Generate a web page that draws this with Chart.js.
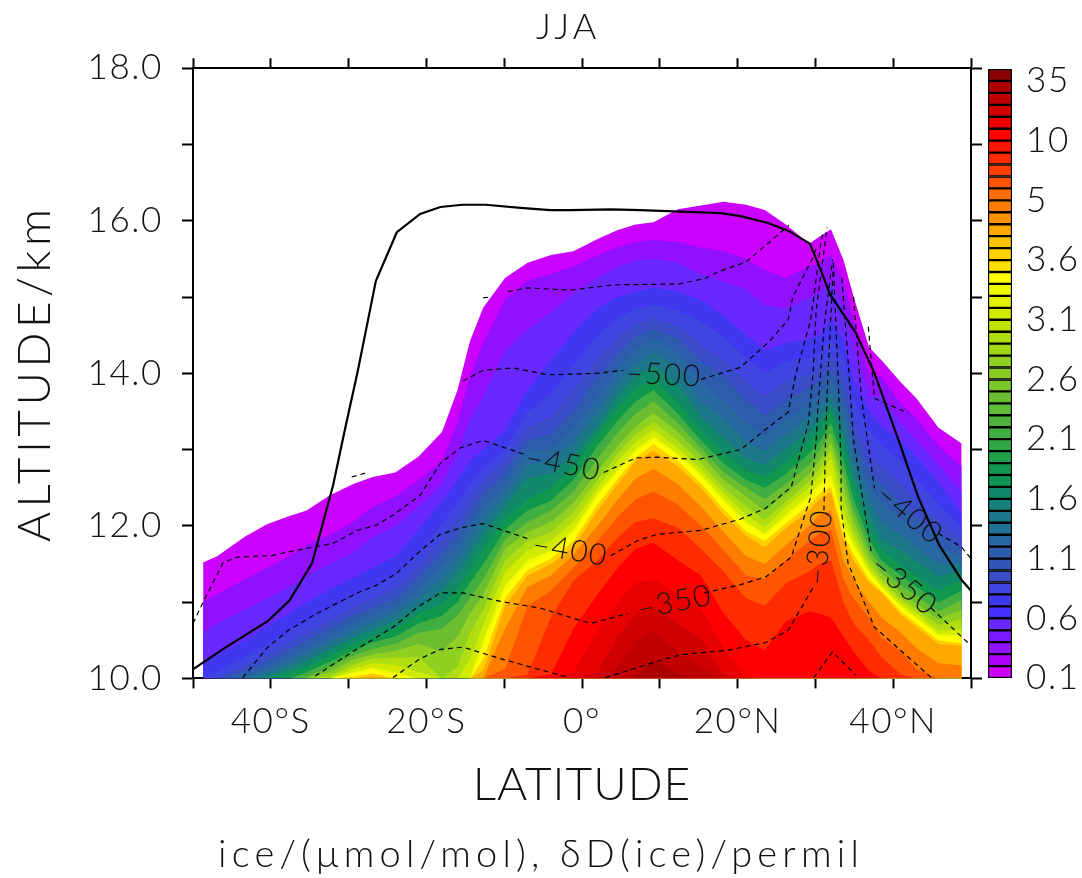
<!DOCTYPE html>
<html><head><meta charset="utf-8">
<style>html,body{margin:0;padding:0;background:#fff;overflow:hidden}
#main{position:absolute;left:0;top:0}
#bar{position:absolute;left:987px;top:60px}
</style>
<script src="https://cdn.jsdelivr.net/npm/chart.js@4"></script>
</head><body>
<canvas id="main" width="1082" height="878"></canvas>
<canvas id="bar" width="95" height="630"></canvas>
<script>
const FONT='Lato';
const INK='#111';
const xTickLabels={'-40':'40°S','-20':'20°S','0':'0°','20':'20°N','40':'40°N'};
const barLabels=['0.1','','','','','0.6','','','','','1.1','','','','','1.6','','','','','2.1','','','','','2.6','','','','','3.1','','','','','3.6','','','','','5','','','','','10','','','','','35'];
const bandColors=['#CC00FF','#B000F8','#9010FF','#7A18FF','#6828FF','#4830FF','#4038F0','#4044E0','#3A4CC8','#3454B8','#2E5CAC','#2868A0','#207098','#1C7888','#148078','#108A68','#0C9455','#10984E','#20A04A','#30A845','#40AE40','#50B23A','#5EBC35','#6CBE30','#7CC828','#8CCC22','#90D020','#A0D818','#B0DE10','#C0E200','#D0EA00','#E0F000','#F0FA00','#FFFF00','#FFE000','#FFD000','#FFC000','#FFA800','#FF9000','#FF7C00','#FF6C00','#FF5400','#FF4000','#FF2C00','#FF1400','#FF0000','#E80000','#D00000','#C00000','#AA0000','#8B0000'];
// colour-bar band drawn by each entry of a column below
const bandLevels=[0,2,4,6,7,8,10,11,13,15,17,20,23,26,28,30,32,33,35,37,39,41,43,45,46,47,48,49];
const latitudes=[-48.7,-46.9,-43.3,-40.5,-37.6,-35.4,-32.4,-29.4,-26.9,-24,-21,-18,-16,-14.4,-12.7,-9.9,-7,-4,-1.1,2,4.6,6.9,9.2,12.3,15.3,18.2,21.1,23.5,26.2,29.2,30.5,32,33.6,34.9,36.9,38.5,41,43,45.8,48.8];
// upper altitude (km) of each band in each latitude column; bands not listed are absent there
const c01=[11.52,11,10.6,10.2,10.02];
const c02=[11.6,11.1,10.72,10.3,10.08];
const c03=[11.86,11.3,10.9,10.5,10.28,10.17,10.09,10.03];
const c04=[12.02,11.45,11.05,10.68,10.45,10.32,10.22,10.14,10.07,10.02];
const c05=[12.13,11.6,11.2,10.85,10.62,10.47,10.37,10.28,10.2,10.13,10.06];
const c06=[12.2,11.75,11.35,11,10.75,10.6,10.5,10.4,10.32,10.23,10.15,10.08,10.02];
const c07=[12.4,11.88,11.5,11.17,10.92,10.77,10.66,10.56,10.47,10.38,10.3,10.22,10.15,10.09,10.03];
const c08=[12.55,12.05,11.65,11.32,11.08,10.93,10.82,10.72,10.62,10.53,10.45,10.37,10.3,10.24,10.18,10.13,10.08,10.06,10.02];
const c09=[12.64,12.25,11.85,11.45,11.2,11.05,10.93,10.83,10.73,10.64,10.55,10.47,10.39,10.32,10.26,10.2,10.14,10.11,10.07,10.03];
const c10=[12.7,12.38,12,11.6,11.35,11.18,11.05,10.95,10.85,10.75,10.65,10.55,10.45,10.36,10.27,10.18,10.08,10.03];
const c11=[12.91,12.6,12.25,11.95,11.65,11.48,11.32,11.18,11.05,10.93,10.85,10.72,10.6,10.45,10.28,10.08];
const c12=[13.23,12.85,12.55,12.33,12.02,11.82,11.65,11.5,11.32,11.15,10.98,10.82,10.65,10.35];
const c13=[13.78,13.35,12.95,12.6,12.3,12.08,11.9,11.75,11.55,11.38,11.18,11,10.82,10.55,10.15];
const c14=[14.42,13.95,13.4,12.85,12.55,12.35,12.15,12,11.8,11.62,11.42,11.25,11.05,10.85,10.6,10.25];
const c15=[14.86,14.4,13.7,13,12.75,12.58,12.42,12.25,12.08,11.9,11.7,11.5,11.3,11.1,10.9,10.7,10.5,10.4,10.25,10.1];
const c16=[15.25,14.96,14.3,13.25,13,12.85,12.7,12.55,12.4,12.25,12.1,11.95,11.82,11.7,11.55,11.4,11.22,11.15,11.05,10.95,10.65,10.12];
const c17=[15.45,15.22,14.57,13.78,13.5,13.3,13.12,12.98,12.8,12.62,12.35,12.2,12.05,11.92,11.8,11.68,11.55,11.5,11.42,11.35,11.2,10.95,10.05];
const c18=[15.55,15.3,14.8,14.17,13.72,13.42,13.2,13,12.85,12.68,12.5,12.33,12.2,12.05,11.92,11.8,11.68,11.64,11.57,11.5,11.35,11.15,10.8,10.05];
const c19=[15.6,15.4,15.05,14.53,14.1,13.78,13.5,13.28,13.1,12.93,12.77,12.6,12.45,12.3,12.18,12.05,11.95,11.9,11.8,11.72,11.62,11.45,11.28,10.65,10.08];
const c20=[15.76,15.55,15.25,14.85,14.5,14.2,13.95,13.7,13.5,13.3,13.2,13.05,12.88,12.72,12.6,12.5,12.42,12.38,12.28,12.2,12,11.8,11.55,11.1,10.62,10.08];
const c21=[15.88,15.65,15.4,15,14.72,14.47,14.25,14.05,13.87,13.7,13.55,13.38,13.22,13.05,12.95,12.85,12.74,12.7,12.62,12.55,12.35,12.12,11.85,11.45,11,10.55,10.15];
const c22=[15.95,15.72,15.48,15.07,14.85,14.65,14.48,14.3,14.13,13.97,13.8,13.63,13.47,13.3,13.2,13.1,13,12.96,12.9,12.85,12.62,12.35,12.05,11.7,11.25,10.85,10.5,10.03];
const c23=[15.98,15.75,15.5,15.12,14.9,14.72,14.58,14.45,14.28,14.1,13.92,13.78,13.63,13.48,13.36,13.26,13.17,13.13,13.07,12.98,12.75,12.45,12.1,11.78,11.3,10.93,10.63,10.24];
const c24=[16.15,15.72,15.45,15.07,14.82,14.62,14.45,14.28,14.1,13.85,13.62,13.47,13.35,13.23,13.12,13.02,12.95,12.92,12.85,12.78,12.55,12.28,11.98,11.55,11.1,10.72,10.35,10.05];
const c25=[16.2,15.65,15.3,14.96,14.68,14.37,14.15,13.88,13.62,13.42,13.25,13.12,13.02,12.93,12.82,12.74,12.67,12.64,12.56,12.5,12.25,12,11.7,11.35,10.92,10.52,10.15];
const c26=[16.25,15.6,15.2,14.75,14.48,14.17,13.95,13.65,13.4,13.15,12.95,12.82,12.7,12.6,12.5,12.42,12.35,12.32,12.22,12.15,11.92,11.68,11.4,10.85,10.4,10.05];
const c27=[16.21,15.5,15.1,14.5,14.2,13.9,13.65,13.35,13.1,12.88,12.72,12.6,12.5,12.38,12.25,12.15,12.05,12.02,11.93,11.87,11.6,11.35,11.05,10.5,10.02];
const c28=[16.14,15.35,14.9,14.3,14,13.7,13.45,13.18,12.98,12.8,12.64,12.5,12.35,12.2,12.08,11.98,11.9,11.87,11.8,11.72,11.5,11.3,10.95,10.37];
const c29=[15.95,15.25,14.85,14.4,14.15,13.9,13.65,13.4,13.2,13,12.82,12.68,12.55,12.42,12.32,12.25,12.15,12.1,12.03,11.97,11.75,11.55,11.25,10.75];
const c30=[15.7,15.4,15,14.45,14.2,13.98,13.8,13.6,13.42,13.25,13.1,12.95,12.8,12.68,12.58,12.5,12.4,12.35,12.28,12.2,12,11.8,11.4,10.88];
const c31=[15.79,15.45,15.05,14.5,14.28,14.08,13.9,13.72,13.55,13.4,13.25,13.1,12.98,12.85,12.75,12.65,12.55,12.5,12.42,12.35,12.15,11.9,11.5,10.85];
const c32=[15.89,15.55,15.2,14.7,14.45,14.22,14.05,13.9,13.75,13.6,13.5,13.35,13.22,13.1,13,12.88,12.68,12.6,12.52,12.45,12.2,11.95,11.55,10.8];
const c33=[15.49,15.2,14.85,14.45,14.22,14,13.8,13.6,13.4,13.2,13.02,12.85,12.7,12.55,12.38,12.2,12.05,12,11.9,11.82,11.55,11.3,11,10.55];
const c34=[15.01,14.7,14.35,13.9,13.65,13.4,13.2,13,12.85,12.68,12.52,12.35,12.2,12.08,11.95,11.85,11.77,11.72,11.63,11.55,11.3,11.05,10.72,10.35];
const c35=[14.34,14,13.7,13.52,13.25,12.9,12.7,12.55,12.35,12.15,11.95,11.82,11.7,11.6,11.52,11.45,11.4,11.38,11.3,11.25,11,10.8,10.5,10.1];
const c36=[14.17,13.95,13.7,13.3,13.05,12.78,12.55,12.3,12.05,11.82,11.68,11.55,11.45,11.38,11.3,11.25,11.2,11.19,11.15,11.12,10.8,10.54,10.28];
const c37=[13.88,13.6,13.35,13.12,12.85,12.55,12.3,12.08,11.88,11.68,11.48,11.35,11.22,11.12,11.05,11,10.95,10.93,10.88,10.83,10.6,10.35,10.05];
const c38=[13.67,13.4,13.12,12.9,12.6,12.32,12.1,11.9,11.72,11.53,11.33,11.2,11.08,10.98,10.9,10.85,10.8,10.78,10.72,10.67,10.4,10.12];
const c39=[13.29,13.05,12.8,12.58,12.3,12.08,11.9,11.72,11.5,11.33,11.15,11,10.88,10.78,10.7,10.62,10.58,10.55,10.5,10.45,10.2];
const c40=[13.08,12.78,12.45,12.15,11.98,11.82,11.7,11.6,11.5,11.4,11.29,11.15,11.02,10.9,10.78,10.65,10.57,10.54,10.46,10.43,10.17];
const columns=[c01,c02,c03,c04,c05,c06,c07,c08,c09,c10,c11,c12,c13,c14,c15,c16,c17,c18,c19,c20,c21,c22,c23,c24,c25,c26,c27,c28,c29,c30,c31,c32,c33,c34,c35,c36,c37,c38,c39,c40];

// Tropopause (solid line)
const tropLat=[-50,-46.2,-40.4,-37.6,-34.7,-32,-30.5,-28.8,-26.5,-23.8,-20.8,-18.2,-15.4,-12.4,-7.9,-4.1,-1.5,3.7,7.5,12.7,17.8,20.4,23.9,26.5,29.3,30.7,31.9,35.2,37.6,40.7,43.2,45.9,48.8,50];
const tropAlt=[10.12,10.38,10.75,11.02,11.51,12.53,13.25,14.04,15.21,15.85,16.09,16.18,16.21,16.21,16.17,16.14,16.14,16.15,16.14,16.12,16.1,16.06,15.97,15.87,15.7,15.35,15.03,14.53,14,13.12,12.38,11.75,11.29,11.15];

// Dashed δD contours, [lat, alt] pairs
const d550a=[[-12.7,14.99],[-11.8,15]];
const d550b=[[-9.5,15.07],[-7,15.12],[-1.5,15.09],[4.1,15.16],[12.4,15.17],[15.7,15.24],[17.5,15.33],[21.1,15.46],[23.4,15.66],[26.6,15.94]];
const d500a=[[-15.3,13.9],[-12.7,14.04],[-8.8,14.07],[-4.4,13.98],[2,14],[5.3,14.04]];
const d500b=[[15.3,13.92],[20.4,14.08],[24,14.41],[26.5,14.7],[27.1,15],[29.7,15.52],[30.1,15.64]];
const d450a=[[-50,10.72],[-48.8,10.98],[-46.1,11.52],[-44.3,11.59],[-39.9,11.61],[-37.2,11.67],[-32,11.77],[-28.9,11.94],[-26.4,12.01],[-24.3,12.14],[-20.8,12.4],[-18.2,12.82],[-15.7,13.02],[-12.7,13.12],[-7.5,12.94]];
const d450b=[[2.8,12.7],[6.9,12.89],[9.7,12.9],[14.9,12.87],[20.4,13],[23.9,13.29],[26.5,13.49],[27.5,14],[29.4,14.7],[30.7,15.71],[31,15.85]];
const d450c=[[-29.6,12.64],[-27.6,12.7]];
const d450d=[[36.8,14.61],[37.6,13.67],[41.9,13.48]];
const d400a=[[-43.6,10.01],[-40.4,10.41],[-37.6,10.64],[-34.1,10.85],[-28.9,11.12],[-26.4,11.22],[-23.8,11.38],[-20.8,11.67],[-18.2,11.89],[-15.3,11.98],[-12.7,12.03],[-6.6,11.82]];
const d400b=[[3.7,11.61],[7.2,11.81],[9.7,11.89],[15.3,11.94],[20.4,12.09],[23.6,12.23],[26.9,12.51],[28.5,13.12],[29.1,13.35],[29.7,14],[30.1,14.83],[31.5,15.91]];
const d400c=[[34.9,15],[35.9,13.69],[36.7,13.12],[37.6,12.49]];
const d400d=[[45.8,11.9],[48.8,11.72],[50,11.57]];
const d350a=[[-34.3,10.03],[-29.8,10.33],[-24.3,10.67],[-21.2,10.93],[-18.2,11.12],[-15.3,11.12],[-10.5,11.01],[-5.3,10.92],[1.1,10.72],[5.9,10.85]];
const d350b=[[15.7,11.12],[20.4,11.23],[23.6,11.33],[26.9,11.59],[29.4,12.38],[30.1,13.12],[30.3,13.52],[31.1,14.6],[32.2,15.49]];
const d350c=[[33.4,15.25],[34.2,14.17],[34.9,13.12],[37.2,11.64]];
const d350d=[[44.9,10.92],[50,10.43]];
const d300a=[[-24.3,10.01],[-20.8,10.26],[-18.2,10.38],[-15.3,10.41],[-10.5,10.26],[-6.3,10.14],[-1.7,10.01]];
const d300b=[[3,10.01],[9.2,10.21],[12.7,10.31],[18.8,10.37],[23.6,10.47],[26.5,10.63],[29.7,11.19]];
const d300c=[[31.1,12.2],[31.3,13.12],[31.6,13.95],[32.3,15.39]];
const d300d=[[32.3,15.45],[33,13.74],[33.3,12.77],[33.3,12.24],[34.2,11.51],[37.6,10.67],[44.9,10.01]];
const d250=[[29.8,10.01],[32.2,10.35],[35.2,10.04]];
const contours=[d550a,d550b,d500a,d500b,d450a,d450b,d450c,d450d,d400a,d400b,d400c,d400d,d350a,d350b,d350c,d350d,d300a,d300b,d300c,d300d,d250];

// Contour labels
const labelTexts=['–500','–450','–400','–350','–300','–400','–350'];
const labelLats=[10.5,-2.4,-1.5,11.9,30.5,42.1,41.4];
const labelAlts=[13.98,12.81,11.68,11.0,11.72,12.15,11.22];
const labelAngles=[3,11,10,-11,-85,40,40];

const textSpacing={'ALTITUDE/km':4.5,'LATITUDE':1,'ice/(μmol/mol), δD(ice)/permil':5.2,'JJA  ':4};
function spacedText(canvas,fallback){
  const ctx=canvas.getContext('2d'),orig=ctx.fillText;
  ctx.fillText=function(t,x,y,m){this.letterSpacing=(textSpacing[t]??fallback)+'px';orig.call(this,t,x,y,m);};
}
spacedText(document.getElementById('main'),1.6);
spacedText(document.getElementById('bar'),1.6);

const bandSets=bandLevels.map((lev,i)=>({
  label:'band '+lev,
  data:latitudes.map((lat,c)=>({x:lat,y:columns[c][i]??10})),
  backgroundColor:bandColors[lev],
  borderWidth:0,pointRadius:0,fill:'start',tension:0,order:100-i
}));
const lineSets=contours.map(seg=>({
  label:'contour',
  data:seg.map(p=>({x:p[0],y:p[1]})),
  borderColor:'#000',borderWidth:1.2,borderDash:[5,4],pointRadius:0,fill:false,tension:0,order:1
}));
const tropSet={label:'tropopause',data:tropLat.map((v,i)=>({x:v,y:tropAlt[i]})),borderColor:'#000',borderWidth:2.2,pointRadius:0,fill:false,tension:0,order:0};

const contourLabelPlugin={id:'contourLabels',afterDatasetsDraw(chart){
  const c=chart.ctx,xs=chart.scales.x,ys=chart.scales.y;
  labelTexts.forEach((t,i)=>{
    c.save();
    c.translate(xs.getPixelForValue(labelLats[i]),ys.getPixelForValue(labelAlts[i]));
    c.rotate(labelAngles[i]*Math.PI/180);
    c.font='300 30px '+FONT;c.fillStyle=INK;c.textAlign='center';c.textBaseline='middle';
    c.fillText(t,0,0);
    c.restore();
  });
}};

const tickGrid={drawOnChartArea:false,drawTicks:true,tickLength:10,tickWidth:2,color:'#000'};
const border={display:true,color:'#000',width:2};
Chart.defaults.font.family=FONT;

new Chart(document.getElementById('main'),{
  type:'line',
  data:{datasets:[...bandSets,...lineSets,tropSet]},
  options:{responsive:false,animation:false,events:[],
    layout:{padding:0},
    plugins:{legend:{display:false},tooltip:{enabled:false},
      title:{display:true,text:'JJA  ',position:'top',fullSize:false,color:INK,font:{size:36,weight:'300',family:FONT},padding:{top:6,bottom:0}},
      subtitle:{display:true,text:'ice/(μmol/mol), δD(ice)/permil',position:'bottom',color:INK,font:{size:38,weight:'300',family:FONT},padding:{top:0,bottom:0}}
    },
    scales:{
      x:{type:'linear',position:'bottom',min:-50,max:50,grid:tickGrid,border,
        ticks:{stepSize:10,autoSkip:false,maxRotation:0,color:INK,padding:12,font:{size:35,weight:'300'},callback:v=>xTickLabels[v]||''},
        title:{display:true,text:'LATITUDE',color:INK,font:{size:46,weight:'300'},padding:{top:0,bottom:20}},
        afterFit:s=>{s.height=154}},
      x2:{type:'linear',position:'top',min:-50,max:50,grid:tickGrid,border,
        ticks:{stepSize:10,display:false},afterFit:s=>{s.height=19}},
      y:{type:'linear',position:'left',min:10,max:18,grid:{...tickGrid,tickLength:11},border,
        ticks:{stepSize:1,autoSkip:false,color:INK,padding:19,font:{size:35,weight:'300'},callback:v=>v%2===0?v.toFixed(1):''},
        title:{display:true,text:'ALTITUDE/km',color:INK,font:{size:46,weight:'300'},padding:{top:8,bottom:0}},
        afterFit:s=>{s.width=193}},
      y2:{type:'linear',position:'right',min:10,max:18,grid:{...tickGrid,tickLength:11},border,
        ticks:{stepSize:1,display:false},afterFit:s=>{s.width=111}}
    }
  },
  plugins:[contourLabelPlugin]
});

new Chart(document.getElementById('bar'),{
  type:'bar',
  data:{labels:barLabels,datasets:[{label:'scale',data:barLabels.map(()=>1),backgroundColor:bandColors,borderColor:'#000',borderWidth:1.5,borderSkipped:false,barPercentage:1,categoryPercentage:1}]},
  options:{indexAxis:'y',responsive:false,animation:false,events:[],
    layout:{padding:{left:1,top:9,bottom:12,right:0}},
    plugins:{legend:{display:false},tooltip:{enabled:false}},
    scales:{
      x:{display:false,min:0,max:1},
      y:{position:'right',reverse:true,grid:{display:false},border:{display:false},
        ticks:{autoSkip:false,color:INK,padding:6,crossAlign:'near',labelOffset:6,font:{size:35,weight:'300',family:FONT}},
        afterFit:s=>{s.width=70;s.paddingTop=0;s.paddingBottom=0}}
    }
  }
});
</script>
</body></html>
